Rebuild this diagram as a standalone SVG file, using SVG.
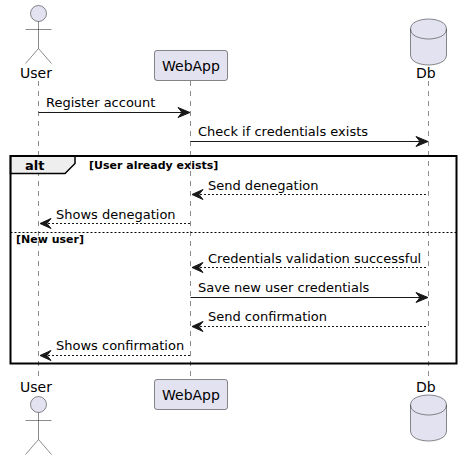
<svg xmlns="http://www.w3.org/2000/svg" width="462" height="460" viewBox="0 0 462 460">
<style>
text{font-family:"DejaVu Sans",sans-serif;fill:#000}
.p{font-size:14px}
.m{font-size:13px}
.life{stroke:#181818;stroke-width:.5;stroke-dasharray:5,5;fill:none}
.shape{fill:#E2E2F0;stroke:#181818;stroke-width:.5}
.msg{stroke:#181818;stroke-width:1;fill:none}
.dash{stroke-dasharray:2,2}
.head{fill:#181818;stroke:#181818;stroke-width:1}
.limb{fill:none;stroke:#181818;stroke-width:.5}
</style>
<defs>
<g id="actor"><circle class="shape" cx="38.5" cy="13.5" r="8"/><path class="limb" d="M38.5 21.5V48.5M25.5 29.5H51.5M38.5 48.5L25.5 63.5M38.5 48.5L51.5 63.5"/></g>
<g id="db"><path class="shape" d="M410.5 29C410.5 19 428.5 19 428.5 19C428.5 19 446.5 19 446.5 29V55C446.5 65 428.5 65 428.5 65C428.5 65 410.5 65 410.5 55Z"/><path class="limb" d="M410.5 29C410.5 39 428.5 39 428.5 39C428.5 39 446.5 39 446.5 29"/></g>
</defs>
<g id="lifelines">
<path class="life" d="M38.5 81V377"/><path class="life" d="M190.5 81V377"/><path class="life" d="M428.5 81V377"/>
</g>
<g id="user-top"><use href="#actor"/><text class="p" x="20" y="78">User</text></g>
<g id="webapp-top"><rect class="shape" x="154.5" y="50.5" width="73" height="30" rx="2.5"/><text class="p" x="162" y="70.5">WebApp</text></g>
<g id="db-top"><use href="#db"/><text class="p" x="416" y="78">Db</text></g>
<g id="user-bottom"><use href="#actor" y="391"/><text class="p" x="20" y="392">User</text></g>
<g id="webapp-bottom"><rect class="shape" x="154.5" y="379.5" width="73" height="30" rx="2.5"/><text class="p" x="162" y="399.5">WebApp</text></g>
<g id="db-bottom"><use href="#db" y="376"/><text class="p" x="416" y="392">Db</text></g>
<g id="alt-frame">
<path d="M10.5 156H75V163.5L65 173.5H10.5Z" fill="#EEEEEE" stroke="#000" stroke-width="1.5"/>
<rect x="10.5" y="156" width="446" height="207.5" fill="none" stroke="#000" stroke-width="2"/>
<path d="M10.5 232.5H456.5" stroke="#000" stroke-width="1" stroke-dasharray="2,2"/>
<text x="25" y="170" font-size="13" font-weight="bold">alt</text>
<text x="89" y="169" font-size="11" font-weight="bold">[User already exists]</text>
<text x="16" y="243" font-size="11" font-weight="bold">[New user]</text>
</g>
<g id="connectors">
<path class="msg" d="M38.5 112.5H186"/><path class="head" d="M178 107.5L190 112.5L178 117.5L182 112.5Z"/>
<path class="msg" d="M190.5 141.5H424"/><path class="head" d="M416 136.5L428 141.5L416 146.5L420 141.5Z"/>
<path class="msg dash" d="M196 194.5H428"/><path class="head" d="M203 189.5L192 194.5L203 199.5L199 194.5Z"/>
<path class="msg dash" d="M44 223.5H190"/><path class="head" d="M51 218.5L40 223.5L51 228.5L47 223.5Z"/>
<path class="msg dash" d="M196 267.5H428"/><path class="head" d="M203 262.5L192 267.5L203 272.5L199 267.5Z"/>
<path class="msg" d="M190.5 297.5H424"/><path class="head" d="M416 292.5L428 297.5L416 302.5L420 297.5Z"/>
<path class="msg dash" d="M196 326.5H428"/><path class="head" d="M203 321.5L192 326.5L203 331.5L199 326.5Z"/>
<path class="msg dash" d="M44 355.5H190"/><path class="head" d="M51 350.5L40 355.5L51 360.5L47 355.5Z"/>
</g>
<g id="labels">
<text class="m" x="46" y="107">Register account</text>
<text class="m" x="198" y="136">Check if credentials exists</text>
<text class="m" x="208" y="190">Send denegation</text>
<text class="m" x="56" y="219">Shows denegation</text>
<text class="m" x="208" y="263">Credentials validation successful</text>
<text class="m" x="198" y="292">Save new user credentials</text>
<text class="m" x="208" y="321">Send confirmation</text>
<text class="m" x="56" y="350">Shows confirmation</text>
</g>
</svg>
